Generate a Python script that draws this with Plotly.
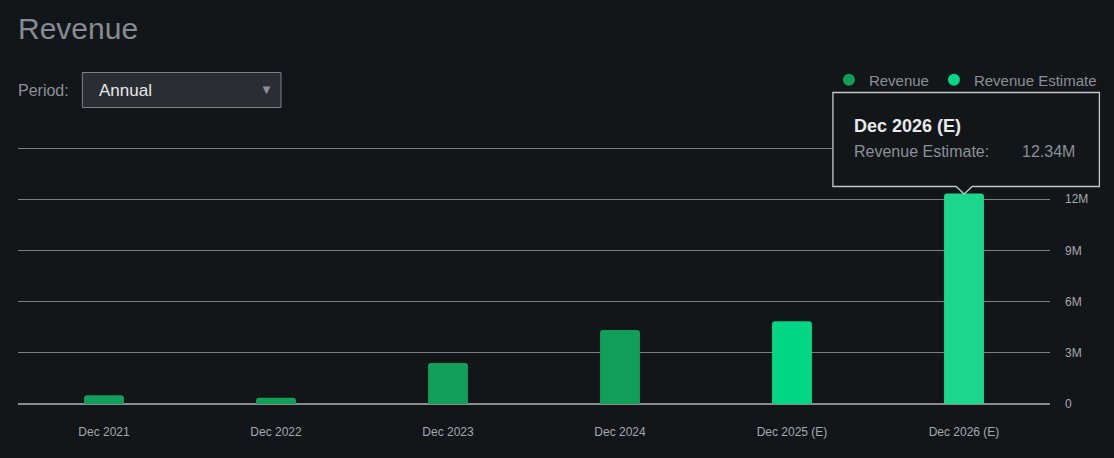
import plotly.graph_objects as go

categories = ["Dec 2021", "Dec 2022", "Dec 2023", "Dec 2024", "Dec 2025 (E)", "Dec 2026 (E)"]
revenue_x = ["Dec 2021", "Dec 2022", "Dec 2023", "Dec 2024"]
revenue_y = [0.52e6, 0.36e6, 2.40e6, 4.34e6]
estimate_x = ["Dec 2025 (E)", "Dec 2026 (E)"]
estimate_y = [4.85e6, 12.34e6]
ytick_vals = [0, 3e6, 6e6, 9e6, 12e6, 15e6]
ytick_text = ["0", "3M", "6M", "9M", "12M", ""]

W, H = 1114, 458
L, R, T, B = 18, 62, 146, 54
PW, PH = W - L - R, H - T - B
Y_TOP = 15e6 * (H - B - T) / (H - B - 148)

BG = "#131619"
REV_C = "#109e58"
EST_C = ["#00d683", "#1bd68b"]
GRID = "#7b7e82"
TXT = "#8a9096"
FONT = "Liberation Sans, Arial, sans-serif"


def px(x):
    return (x - L) / PW


def py(y):
    return (H - B - y) / PH


fig = go.Figure()
fig.add_trace(go.Bar(x=revenue_x, y=revenue_y, marker=dict(color=REV_C, line=dict(width=0)),
                     showlegend=False, name="Revenue"))
fig.add_trace(go.Bar(x=estimate_x, y=estimate_y, marker=dict(color=EST_C, line=dict(width=0)),
                     showlegend=False, name="Revenue Estimate"))
fig.add_trace(go.Scatter(x=[None], y=[None], mode="markers", name="Revenue",
                         marker=dict(color=REV_C, size=13, symbol="circle")))
fig.add_trace(go.Scatter(x=[None], y=[None], mode="markers", name="Revenue Estimate",
                         marker=dict(color=EST_C[0], size=13, symbol="circle")))

shapes = []
# dropdown box
shapes.append(dict(type="rect", xref="paper", yref="paper",
                   x0=px(82.5), x1=px(281.5), y0=py(107.5), y1=py(72.5),
                   fillcolor="#2a2e33", line=dict(color="#7e8388", width=1), layer="above"))
# tooltip with notch
tp = "M{},{} L{},{} L{},{} L{},{} L{},{} L{},{} L{},{} Z".format(
    px(834.5), py(92.5), px(1101.5), py(92.5), px(1101.5), py(186.5),
    px(974), py(186.5), px(966), py(194), px(958), py(186.5), px(834.5), py(186.5))
shapes.append(dict(type="path", xref="paper", yref="paper", path=tp,
                   fillcolor=BG, line=dict(color="#c4c6c8", width=1.3), layer="above"))

annotations = [
    dict(text="Revenue", x=px(16), y=py(28), xref="paper", yref="paper", xanchor="left",
         yanchor="middle", showarrow=False, font=dict(family=FONT, size=30, color="#858c93")),
    dict(text="Period:", x=px(16), y=py(90), xref="paper", yref="paper", xanchor="left",
         yanchor="middle", showarrow=False, font=dict(family=FONT, size=16, color=TXT)),
    dict(text="Annual", x=px(97), y=py(90), xref="paper", yref="paper", xanchor="left",
         yanchor="middle", showarrow=False, font=dict(family=FONT, size=17, color="#e6e8ea")),
    dict(text="▼", x=px(267), y=py(89), xref="paper", yref="paper", xanchor="center",
         yanchor="middle", showarrow=False, font=dict(family=FONT, size=13, color="#8a8f94")),
    dict(text="<b>Dec 2026 (E)</b>", x=px(854), y=py(126), xref="paper", yref="paper",
         xanchor="left", yanchor="middle", showarrow=False,
         font=dict(family=FONT, size=18, color="#e8e9ea")),
    dict(text="Revenue Estimate:", x=px(854), y=py(151), xref="paper", yref="paper",
         xanchor="left", yanchor="middle", showarrow=False,
         font=dict(family=FONT, size=16, color=TXT)),
    dict(text="12.34M", x=px(1079), y=py(151), xref="paper", yref="paper",
         xanchor="right", yanchor="middle", showarrow=False,
         font=dict(family=FONT, size=16, color=TXT)),
]

fig.update_layout(
    width=W, height=H,
    margin=dict(l=L, r=R, t=T, b=B, pad=0),
    paper_bgcolor=BG, plot_bgcolor=BG,
    barmode="overlay", bargap=0.768,
    barcornerradius=3,
    font=dict(family=FONT, color=TXT),
    showlegend=True,
    legend=dict(orientation="h", x=px(1104), xanchor="right", y=py(80), yanchor="middle",
                font=dict(family=FONT, size=15, color=TXT), bgcolor="rgba(0,0,0,0)",
                itemsizing="constant", tracegroupgap=0),
    xaxis=dict(type="category", categoryorder="array", categoryarray=categories,
               range=[-0.5, len(categories) - 0.5], showgrid=False, zeroline=False,
               showline=False, ticks="", tickfont=dict(family=FONT, size=12, color="#a3a8ad"),
               ticklabelstandoff=19, fixedrange=True),
    yaxis=dict(range=[0, Y_TOP], tickvals=ytick_vals, ticktext=ytick_text, side="right",
               showgrid=True, gridcolor=GRID, gridwidth=1, zeroline=True,
               zerolinecolor="#8a8d90", zerolinewidth=2, showline=False, ticks="",
               tickfont=dict(family=FONT, size=12, color="#a3a8ad"), ticklabelstandoff=14,
               fixedrange=True),
    shapes=shapes,
    annotations=annotations,
    hovermode=False,
)

fig.write_html("out.html")
